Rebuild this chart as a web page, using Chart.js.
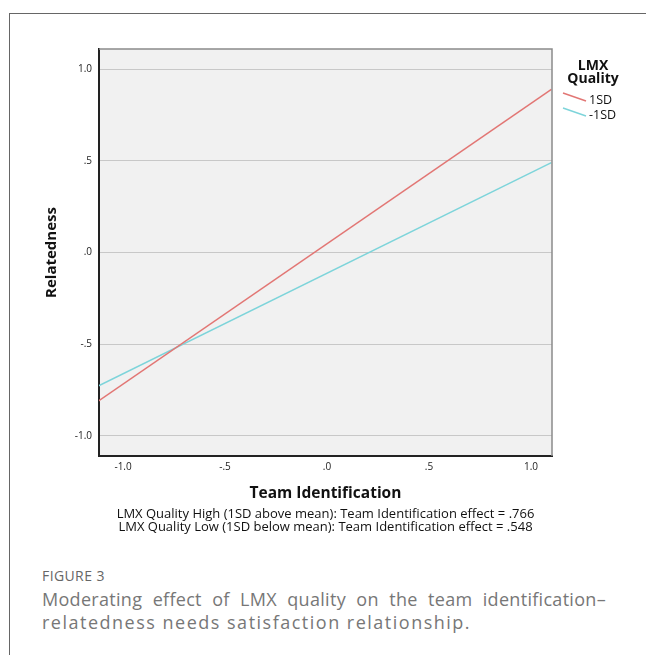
<!DOCTYPE html>
<html>
<head>
<meta charset="utf-8">
<script src="https://cdn.jsdelivr.net/npm/chart.js@4.4.1/dist/chart.umd.min.js"></script>
<style>
  html, body { margin: 0; padding: 0; background: #fff; }
  body { width: 646px; height: 655px; position: relative; overflow: hidden; font-family: 'Open Sans', sans-serif; }
  #frame { position: absolute; left: 9px; top: 13px; width: 700px; height: 700px; border-left: 1px solid #666; border-top: 1px solid #666; }
  #wrap { position: absolute; left: 0; top: 0; width: 646px; height: 510px; }
  .note { position: absolute; left: 0; width: 651px; text-align: center; font-size: 13px; color: #111; line-height: 13px; }
  #figlabel { position: absolute; left: 42px; top: 566px; font-size: 14px; letter-spacing: 0.4px; color: #666; }
  .cap { position: absolute; left: 42px; font-size: 18px; letter-spacing: 1.5px; line-height: 23px; color: #777; white-space: nowrap; }
  #cap1 { top: 588px; width: 564px; letter-spacing: 0.3px; text-align: justify; text-align-last: justify; }
  #cap2 { top: 611px; }
</style>
</head>
<body>
<div id="frame"></div>
<div id="wrap"><canvas id="chart"></canvas></div>
<div class="note" style="top:507px">LMX Quality High (1SD above mean): Team Identification effect = .766</div>
<div class="note" style="top:520px">LMX Quality Low (1SD below mean): Team Identification effect = .548</div>
<div id="figlabel">FIGURE 3</div>
<div class="cap" id="cap1">Moderating effect of LMX quality on the team identification–</div>
<div class="cap" id="cap2">relatedness needs satisfaction relationship.</div>
<script>
// ค่าที่อ่านจากภาพ
const teamId = [-1.12, 1.10];
const highLmx = [-0.81, 0.89];
const lowLmx = [-0.727, 0.49];
const seriesLabels = ['1SD', '-1SD'];
const tickVals = [-1.0, -0.5, 0.0, 0.5, 1.0];

const fmt = (v) => v.toFixed(1).replace(/^(-?)0\./, '$1.');

const plotFrame = {
    id: 'plotFrame',
    beforeDraw(chart) {
        const { ctx, chartArea: a } = chart;
        ctx.save();
        ctx.fillStyle = '#f1f1f1';
        ctx.fillRect(a.left, a.top, a.right - a.left, a.bottom - a.top);
        ctx.restore();
    },
    afterDraw(chart) {
        const { ctx, chartArea: a } = chart;
        ctx.save();
        // ขอบบนและขวา
        ctx.strokeStyle = '#8a8a8a';
        ctx.lineWidth = 1.5;
        ctx.beginPath();
        ctx.moveTo(a.left, a.top);
        ctx.lineTo(a.right, a.top);
        ctx.lineTo(a.right, a.bottom);
        ctx.stroke();
        // legend
        const x0 = a.right + 41;
        ctx.fillStyle = '#111';
        ctx.font = "bold 14px 'Open Sans', sans-serif";
        ctx.textAlign = 'center';
        ctx.textBaseline = 'middle';
        ctx.fillText('LMX', x0, 66);
        ctx.fillText('Quality', x0, 79);
        ctx.font = "12.5px 'Open Sans', sans-serif";
        ctx.textAlign = 'left';
        chart.data.datasets.forEach((ds, i) => {
            const y = 93 + i * 15;
            ctx.strokeStyle = ds.borderColor;
            ctx.lineWidth = 1.5;
            ctx.beginPath();
            ctx.moveTo(a.right + 11, y);
            ctx.lineTo(a.right + 34, y + 8);
            ctx.stroke();
            ctx.fillStyle = '#111';
            ctx.fillText(ds.label, a.right + 37, y + 7);
        });
        ctx.restore();
    }
};

const ctx = document.getElementById('chart').getContext('2d');
const chart = new Chart(ctx, {
    type: 'line',
    data: {
        datasets: [{
            label: seriesLabels[0],
            data: teamId.map((x, i) => ({ x: x, y: highLmx[i] })),
            borderColor: 'rgb(226, 118, 116)',
            borderWidth: 1.5,
            pointRadius: 0
        }, {
            label: seriesLabels[1],
            data: teamId.map((x, i) => ({ x: x, y: lowLmx[i] })),
            borderColor: 'rgb(125, 212, 218)',
            borderWidth: 1.5,
            pointRadius: 0
        }]
    },
    options: {
        responsive: true,
        maintainAspectRatio: false,
        animation: false,
        layout: {
            padding: { left: 0, right: 94, top: 49, bottom: 0 }
        },
        plugins: {
            legend: { display: false },
            tooltip: { enabled: false }
        },
        scales: {
            x: {
                type: 'linear',
                min: -1.118,
                max: 1.103,
                afterBuildTicks: (scale) => { scale.ticks = tickVals.map(v => ({ value: v })); },
                afterFit: (scale) => { scale.height = 54; },
                grid: { display: false, drawTicks: false },
                border: { color: '#222', width: 2 },
                ticks: {
                    padding: 5,
                    color: '#222',
                    font: { family: "'Open Sans', sans-serif", size: 10 },
                    callback: (v) => fmt(v)
                },
                title: {
                    display: true,
                    text: 'Team Identification',
                    color: '#111',
                    font: { family: "'Open Sans', sans-serif", size: 15.5, weight: 'bold' },
                    padding: { top: 0, bottom: 7 }
                }
            },
            y: {
                min: -1.11,
                max: 1.11,
                afterBuildTicks: (scale) => { scale.ticks = tickVals.map(v => ({ value: v })); },
                afterFit: (scale) => { scale.width = 99; },
                grid: { color: '#c8c8c8', lineWidth: 1, drawTicks: false },
                border: { color: '#222', width: 2 },
                ticks: {
                    padding: 7,
                    color: '#222',
                    font: { family: "'Open Sans', sans-serif", size: 10 },
                    callback: (v) => fmt(v)
                },
                title: {
                    display: true,
                    text: 'Relatedness',
                    color: '#111',
                    font: { family: "'Open Sans', sans-serif", size: 15, weight: 'bold' },
                    padding: { top: 43, bottom: 0 }
                }
            }
        }
    },
    plugins: [plotFrame]
});
</script>
</body>
</html>
